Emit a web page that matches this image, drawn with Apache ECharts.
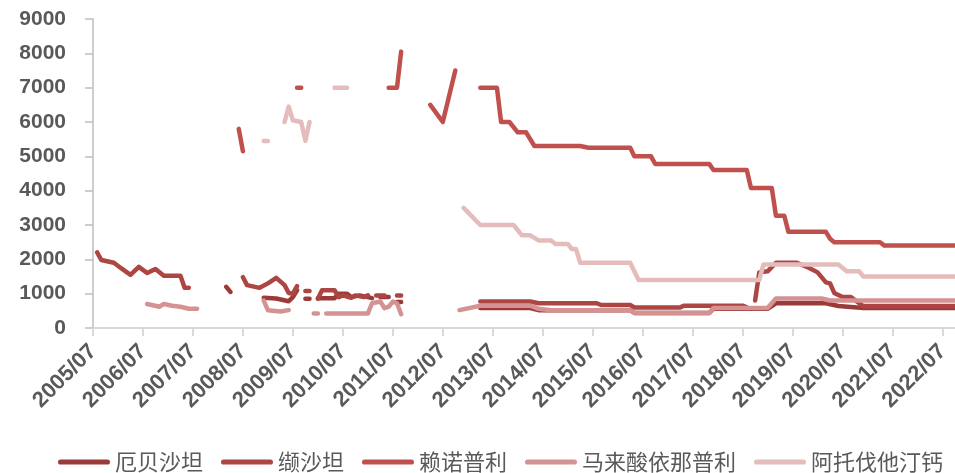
<!DOCTYPE html>
<html><head><meta charset="utf-8">
<script src="https://cdn.jsdelivr.net/npm/echarts@6/dist/echarts.min.js"></script>
<style>html,body{margin:0;padding:0;background:#fff}#c{width:955px;height:473px}</style>
</head><body><div id="c"></div>
<script>
const seriesNames = ['厄贝沙坦', '缬沙坦', '赖诺普利', '马来酸依那普利', '阿托伐他汀钙'];
const seriesColors = ['#9b3b39', '#ad4542', '#c0504d', '#d49392', '#e3bcbb'];
const xTickLabels = ['2005/07','2006/07','2007/07','2008/07','2009/07','2010/07','2011/07','2012/07','2013/07',
  '2014/07','2015/07','2016/07','2017/07','2018/07','2019/07','2020/07','2021/07','2022/07'];
const xLast = '2022/10';
const yTickValues = [0, 1000, 2000, 3000, 4000, 5000, 6000, 7000, 8000, 9000];

// null = gap in the line
const irbesartan = [
  ['2008/03',1200],['2008/04',1050], null,
  ['2008/12',880],['2009/03',860],['2009/06',780],['2009/07',900],['2009/08',1100], null,
  ['2009/10',850],['2009/11',850], null,
  ['2010/01',870],['2010/05',870],['2010/06',1000],['2010/08',1000],['2010/09',900],['2010/11',950],['2011/01',900],['2011/02',870], null,
  ['2011/04',900],['2011/06',900], null,
  ['2011/08',760],['2011/09',760], null,
  ['2013/04',580],['2014/04',580],['2014/06',520],['2016/04',520],['2016/05',440],['2017/11',440],['2017/12',560],
  ['2019/01',560],['2019/03',720],['2020/03',720],['2020/06',640],['2020/12',580],['2022/10',580]
];
const valsartan = [
  ['2005/08',2200],['2005/09',1980],['2005/12',1900],['2006/02',1720],['2006/04',1550],['2006/06',1780],['2006/08',1600],
  ['2006/10',1720],['2006/12',1520],['2007/04',1520],['2007/05',1170],['2007/06',1170], null,
  ['2008/07',1480],['2008/08',1250],['2008/11',1170],['2009/01',1300],['2009/03',1460],['2009/05',1250],['2009/06',1020],
  ['2009/07',1000],['2009/08',1220], null,
  ['2009/10',1080],['2009/11',1080], null,
  ['2010/01',850],['2010/02',1100],['2010/05',1100],['2010/06',900],['2010/07',950],['2010/09',880],['2010/10',950],
  ['2010/12',900],['2011/01',950], null,
  ['2011/03',950],['2011/05',950], null,
  ['2011/08',950],['2011/09',950], null,
  ['2013/04',770],['2014/04',770],['2014/06',720],['2015/08',720],['2015/09',670],['2016/04',670],['2016/05',600],
  ['2017/04',600],['2017/05',650],['2018/07',650],['2018/08',600], null,
  ['2018/10',800],['2018/11',1620],['2019/01',1650],['2019/03',1900],['2019/08',1900],['2019/11',1750],['2020/01',1620],
  ['2020/03',1330],['2020/04',1300],['2020/05',1020],['2020/07',900],['2020/09',900],['2020/11',720],['2020/12',640],['2022/10',640]
];
const lisinopril = [
  ['2008/06',5800],['2008/07',5150], null,
  ['2009/08',7000],['2009/09',7000], null,
  ['2011/06',7000],['2011/08',7000],['2011/09',8050], null,
  ['2012/04',6500],['2012/07',6000],['2012/10',7500], null,
  ['2013/04',7000],['2013/08',7000],['2013/09',6000],['2013/11',6000],['2014/01',5700],['2014/03',5700],['2014/05',5300],
  ['2015/04',5300],['2015/06',5250],['2016/04',5250],['2016/05',5000],['2016/09',5000],['2016/10',4780],['2017/11',4780],
  ['2017/12',4600],['2018/08',4600],['2018/09',4080],['2019/02',4080],['2019/03',3270],['2019/05',3270],['2019/06',2800],
  ['2020/03',2800],['2020/04',2600],['2020/05',2500],['2021/04',2500],['2021/05',2400],['2022/10',2400]
];
const enalapril = [
  ['2006/08',700],['2006/11',620],['2006/12',700],['2007/02',650],['2007/04',620],['2007/06',560],['2007/08',560], null,
  ['2008/12',800],['2009/01',520],['2009/04',480],['2009/06',520], null,
  ['2009/12',420],['2010/01',420], null,
  ['2010/03',420],['2011/01',420],['2011/02',720],['2011/04',770],['2011/05',575],['2011/06',620],['2011/07',770],
  ['2011/08',720],['2011/09',400], null,
  ['2012/11',520],['2013/04',650],['2014/04',650],['2014/06',560],['2014/09',520],['2016/04',520],['2016/05',440],
  ['2017/11',440],['2017/12',580],['2019/01',580],['2019/03',860],['2020/02',860],['2020/04',800],['2022/10',800]
];
const atorvastatin = [
  ['2008/12',5450],['2009/01',5450], null,
  ['2009/05',6000],['2009/06',6450],['2009/07',6050],['2009/09',6000],['2009/10',5450],['2009/11',6000], null,
  ['2010/05',7000],['2010/08',7000], null,
  ['2012/12',3500],['2013/04',3000],['2013/12',3000],['2014/02',2700],['2014/04',2700],['2014/06',2550],['2014/09',2550],
  ['2014/10',2450],['2015/01',2450],['2015/02',2300],['2015/03',2300],['2015/04',1900],['2016/04',1900],['2016/06',1400],
  ['2018/11',1400],['2018/12',1850],['2020/06',1850],['2020/08',1650],['2020/11',1650],['2020/12',1500],['2022/10',1500]
];
const seriesValues = [irbesartan, valsartan, lisinopril, enalapril, atorvastatin];

function toIdx(s) { const p = s.split('/').map(Number); return (p[0] - 2005) * 12 + (p[1] - 7); }
const tickIdx = xTickLabels.map(toIdx);

const chart = echarts.init(document.getElementById('c'), null, { renderer: 'canvas' });
const axisFont = { fontFamily: 'Liberation Sans', fontWeight: 'bold', color: '#595959' };
chart.setOption({
  animation: false,
  backgroundColor: '#fff',
  grid: { left: 93, right: 0, top: 19, bottom: 145, containLabel: false },
  legend: {
    data: seriesNames,
    bottom: 0,
    left: 58,
    width: 897,
    padding: 0,
    itemWidth: 52, itemHeight: 6, itemGap: 18,
    icon: 'path://M5,0 H95 A5,5 0 0 1 95,10 H5 A5,5 0 0 1 5,0 Z',
    textStyle: { fontFamily: 'Noto Sans CJK SC', fontSize: 22, color: '#595959', padding: [0, 0, 0, 0] }
  },
  xAxis: {
    type: 'value', min: 0, max: toIdx(xLast),
    axisLine: { show: true, lineStyle: { color: '#d9d9d9', width: 2 } },
    axisTick: { show: true, length: 8, customValues: tickIdx, lineStyle: { color: '#d9d9d9', width: 2 } },
    splitLine: { show: false },
    axisLabel: Object.assign({}, axisFont, {
      fontSize: 22, customValues: tickIdx, rotate: 45, margin: 20,
      formatter: v => { const i = tickIdx.indexOf(Math.round(v)); return i >= 0 ? xTickLabels[i] : ''; }
    })
  },
  yAxis: {
    type: 'value', min: yTickValues[0], max: yTickValues[yTickValues.length - 1], interval: 1000,
    axisLine: { show: true, lineStyle: { color: '#bfbfbf', width: 1.5 } },
    axisTick: { show: true, length: 8, lineStyle: { color: '#bfbfbf', width: 1.5 } },
    splitLine: { show: false },
    axisLabel: Object.assign({}, axisFont, { fontSize: 21, margin: 27, formatter: v => String(v) })
  },
  series: seriesNames.map((name, k) => ({
    name: name, type: 'line', showSymbol: false, symbol: 'none', connectNulls: false,
    color: seriesColors[k],
    lineStyle: { width: 4.5, cap: 'round', join: 'round', color: seriesColors[k] },
    data: seriesValues[k].map(p => p ? [toIdx(p[0]), p[1]] : ['-', '-'])
  }))
});
</script>
</body></html>
